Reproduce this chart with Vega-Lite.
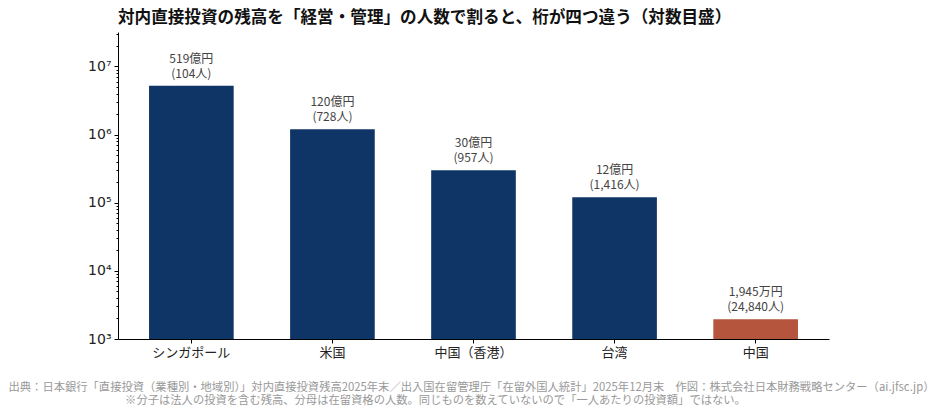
{
  "$schema": "https://vega.github.io/schema/vega-lite/v6.json",
  "width": 711,
  "height": 307,
  "autosize": "none",
  "padding": {"left": 118, "top": 32, "right": 108, "bottom": 74},
  "background": "white",
  "config": {
    "view": {"stroke": null},
    "font": "Noto Sans CJK JP"
  },
  "title": {
    "text": "対内直接投資の残高を「経営・管理」の人数で割ると、桁が四つ違う（対数目盛）",
    "anchor": "start",
    "frame": "group",
    "font": "Noto Sans CJK JP",
    "fontSize": 16.6,
    "fontWeight": "bold",
    "color": "#111",
    "offset": 5
  },
  "data": {
    "values": [
      {"country": "シンガポール", "value": 5190000, "label": "519億円\n(104人)", "kind": "other"},
      {"country": "米国", "value": 1200000, "label": "120億円\n(728人)", "kind": "other"},
      {"country": "中国（香港）", "value": 300000, "label": "30億円\n(957人)", "kind": "other"},
      {"country": "台湾", "value": 120000, "label": "12億円\n(1,416人)", "kind": "other"},
      {"country": "中国", "value": 1945, "label": "1,945万円\n(24,840人)", "kind": "china"}
    ]
  },
  "encoding": {
    "x": {
      "field": "country",
      "type": "nominal",
      "sort": null,
      "scale": {"paddingInner": 0.4, "paddingOuter": 0.22},
      "axis": {
        "labelAngle": 0,
        "labelFontSize": 13,
        "labelColor": "#222",
        "labelPadding": 3,
        "tickSize": 4,
        "tickColor": "#000",
        "domainColor": "#000",
        "title": "出典：日本銀行「直接投資（業種別・地域別）」対内直接投資残高2025年末／出入国在留管理庁「在留外国人統計」2025年12月末　作図：株式会社日本財務戦略センター（ai.jfsc.jp）",
        "titleFontSize": 11.3,
        "titleFontWeight": "normal",
        "titleColor": "#999",
        "titleX": 353,
        "titleY": 48,
        "titleAlign": "center",
        "titleBaseline": "middle"
      }
    },
    "y": {
      "field": "value",
      "type": "quantitative",
      "stack": null,
      "scale": {"type": "log", "domain": [1000, 32000000], "nice": false}
    }
  },
  "layer": [
    {
      "mark": {"type": "bar"},
      "encoding": {
        "color": {
          "field": "kind",
          "type": "nominal",
          "scale": {"domain": ["other", "china"], "range": ["#0f3566", "#b5553e"]},
          "legend": null
        },
        "y": {
          "field": "value",
          "type": "quantitative",
          "stack": null,
          "axis": {
            "values": [1000, 10000, 100000, 1000000, 10000000],
            "labelExpr": "datum.value == 1000 ? '10³' : datum.value == 10000 ? '10⁴' : datum.value == 100000 ? '10⁵' : datum.value == 1000000 ? '10⁶' : '10⁷'",
            "labelFont": "DejaVu Sans",
            "labelFontSize": 14,
            "labelColor": "#222",
            "labelPadding": 3,
            "tickSize": 4,
            "tickColor": "#000",
            "domainColor": "#000",
            "grid": false,
            "title": null
          }
        }
      }
    },
    {
      "mark": {"type": "text", "baseline": "bottom", "dy": -20, "lineBreak": "\n", "fontSize": 12, "color": "#444", "lineHeight": 15},
      "encoding": {
        "text": {"field": "label", "type": "nominal"},
        "y": {
          "field": "value",
          "type": "quantitative",
          "stack": null,
          "axis": {
            "values": [2000, 3000, 4000, 5000, 6000, 7000, 8000, 9000, 20000, 30000, 40000, 50000, 60000, 70000, 80000, 90000, 200000, 300000, 400000, 500000, 600000, 700000, 800000, 900000, 2000000, 3000000, 4000000, 5000000, 6000000, 7000000, 8000000, 9000000, 20000000, 30000000],
            "orient": "left",
            "labels": false,
            "domain": false,
            "tickSize": 2,
            "tickColor": "#000",
            "grid": false,
            "title": "※分子は法人の投資を含む残高、分母は在留資格の人数。同じものを数えていないので「一人あたりの投資額」ではない。",
            "titleAngle": 0,
            "titleFontSize": 11.3,
            "titleFontWeight": "normal",
            "titleColor": "#999",
            "titleX": 317,
            "titleY": 368,
            "titleAlign": "center",
            "titleBaseline": "middle"
          }
        }
      }
    }
  ],
  "resolve": {"axis": {"y": "independent"}}
}
